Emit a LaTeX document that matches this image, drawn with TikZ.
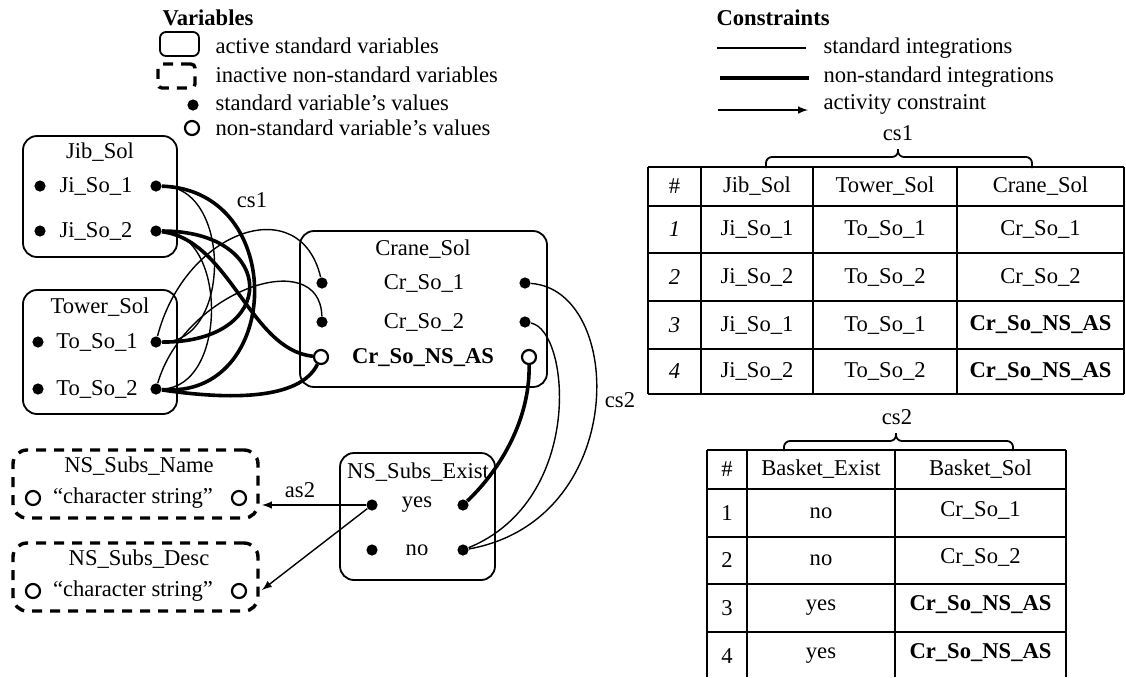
\documentclass[tikz,border=0pt]{standalone}
\usepackage{fontspec}
\setmainfont{Liberation Serif}

\begin{document}
\begin{tikzpicture}[>=latex, x=0.5pt, y=-0.5pt, font=\fontsize{11.3}{13}\selectfont,
    var/.style={draw, rounded corners=7pt, line width=0.9pt},
    nsvar/.style={draw, rounded corners=7pt, line width=1.7pt, dash pattern=on 5pt off 4pt},
    val/.style={circle, fill, inner sep=0pt, minimum size=5.6pt},
    nsval/.style={circle, draw, line width=1.1pt, inner sep=0pt, minimum size=7pt},
    std/.style={line width=0.7pt},
    nonstd/.style={line width=1.8pt},
    act/.style={->, line width=0.7pt},
    grid/.style={line width=0.9pt}]
    \useasboundingbox (0,0) rectangle (1126,677);

    % Legend - variables
    \node[anchor=west] (VarHead) at (155.5,18) {\textbf{Variables}};
    \node[var, rounded corners=3pt, minimum width=19.5pt, minimum height=12pt] (VarIcon-1) at (179.5,44) {};
    \node[nsvar, rounded corners=2pt, minimum width=18.5pt, minimum height=12pt] (VarIcon-2) at (176.5,76) {};
    \node[val] (VarIcon-3) at (193,105) {};
    \node[nsval] (VarIcon-4) at (192,128) {};
    \node[anchor=west] (VarText-1) at (208.5,46) {active standard variables};
    \node[anchor=west] (VarText-2) at (208.5,75) {inactive non-standard variables};
    \node[anchor=west] (VarText-3) at (208.5,103) {standard variable's values};
    \node[anchor=west] (VarText-4) at (208.5,128) {non-standard variable's values};

    % Legend - constraints
    \node[anchor=west] (ConHead) at (709.5,18) {\textbf{Constraints}};
    \coordinate (ConA-1) at (717,48);  \coordinate (ConB-1) at (806,48);
    \coordinate (ConA-2) at (720,78);  \coordinate (ConB-2) at (809,78);
    \coordinate (ConA-3) at (718,110); \coordinate (ConB-3) at (808,110);
    \draw[std] (ConA-1) -- (ConB-1);
    \draw[nonstd] (ConA-2) -- (ConB-2);
    \draw[act] (ConA-3) -- (ConB-3);
    \node[anchor=west] (ConText-1) at (816.5,48) {standard integrations};
    \node[anchor=west] (ConText-2) at (816.5,77) {non-standard integrations};
    \node[anchor=west] (ConText-3) at (816.5,104) {activity constraint};

    % Jib_Sol
    \node[var, minimum width=77pt, minimum height=60.5pt] (JibSol) at (100,196.5) {};
    \node (JibTitle) at (100,152) {Jib\_Sol};
    \foreach \i/\y in {1/186, 2/231}
    {
        \node[val] (JiL-\i) at (40,\y) {};
        \node (Ji-\i) at (96,\y) {Ji\_So\_\i};
        \node[val] (JiR-\i) at (156,\y) {};
    }

    % Tower_Sol
    \node[var, minimum width=77pt, minimum height=62pt] (TowerSol) at (100,352) {};
    \node (TowerTitle) at (100,307) {Tower\_Sol};
    \foreach \i/\y in {1/342, 2/389}
    {
        \node[val] (ToL-\i) at (38,\y) {};
        \node (To-\i) at (97,\y) {To\_So\_\i};
        \node[val] (ToR-\i) at (156,\y) {};
    }

    % Crane_Sol
    \node[var, minimum width=123.5pt, minimum height=78pt] (CraneSol) at (423.5,309) {};
    \node (CraneTitle) at (423,249) {Crane\_Sol};
    \foreach \i/\y in {1/283, 2/322}
    {
        \node[val] (CrL-\i) at (322,\y) {};
        \node (Cr-\i) at (424,\y) {Cr\_So\_\i};
        \node[val] (CrR-\i) at (525,\y) {};
    }
    \node[nsval] (CrL-3) at (321,357) {};
    \node (Cr-3) at (423,358) {\textbf{Cr\_So\_NS\_AS}};
    \node[nsval] (CrR-3) at (529,357) {};

    % NS_Subs_Exist
    \node[var, minimum width=77.5pt, minimum height=63.5pt] (ExistSol) at (417.5,516.5) {};
    \node (ExistTitle) at (418,472) {NS\_Subs\_Exist};
    \foreach \i/\y/\t in {1/505/yes, 2/550/no}
    {
        \node[val] (ExL-\i) at (372,\y) {};
        \node (Ex-\i) at (417,\y) {\t};
        \node[val] (ExR-\i) at (463,\y) {};
    }

    % NS_Subs_Name and NS_Subs_Desc
    \foreach \v/\t/\y in {Name/NS\_Subs\_Name/484, Desc/NS\_Subs\_Desc/577}
    {
        \node[nsvar, minimum width=122.5pt, minimum height=34pt] (NS\v) at (135.5,\y) {};
        \node (NS\v Title) at (139,\y-18) {\t};
        \node[nsval] (NS\v L) at (33,\y+14) {};
        \node (NS\v Val) at (133,\y+14) {“character string”};
        \node[nsval] (NS\v R) at (239,\y+14) {};
    }

    % Constraint cs1
    \draw[std] (JiR-1) .. controls (232,186) and (232,343) .. (ToR-1);
    \draw[std] (JiR-2) .. controls (228,231) and (228,388) .. (ToR-2);
    \draw[std] (ToR-1) .. controls (185,230) and (300,190) .. (CrL-1);
    \draw[std] (ToR-2) .. controls (185,290) and (320,245) .. (CrL-2);
    \draw[nonstd] (JiR-1) .. controls (289,190) and (282,400) .. (ToR-2);
    \draw[nonstd] (ToR-1) .. controls (279,343) and (279,231) .. (JiR-2);
    \draw[nonstd] (JiR-2) .. controls (230,240) and (250,350) .. (CrL-3);
    \draw[nonstd] (ToR-2) .. controls (230,400) and (300,400) .. (CrL-3);
    \node (cs1) at (252,200) {cs1};

    % Constraint cs2
    \draw[std] (CrR-1) .. controls (625,290) and (630,520) .. (ExR-2);
    \draw[std] (CrR-2) .. controls (570,330) and (585,500) .. (ExR-2);
    \draw[nonstd] (CrR-3) .. controls (530,420) and (500,470) .. (ExR-1);
    \node (cs2) at (620,400) {cs2};

    % Activity constraint as2
    \coordinate (NameIn) at (262,505);
    \coordinate (DescIn) at (262,590);
    \draw[act] (ExL-1) -- (NameIn);
    \draw[act] (ExL-1) -- (DescIn);
    \node (as2) at (300,490) {as2};

    % Table cs1
    \node (cs1Head) at (898,133) {cs1};
    \draw[grid, rounded corners=3pt] (766,168) -- (766,157) -- (898,157) -- (898,149);
    \draw[grid, rounded corners=3pt] (898,149) -- (898,157) -- (1032,157) -- (1032,168);
    \foreach \x in {648,701,813,957,1124}
    {
        \draw[grid] (\x,167) -- (\x,394);
    }
    \foreach \y in {167,206,253,301,349,394}
    {
        \draw[grid] (648,\y) -- (1124,\y);
    }
    \node (T1-0-0) at (674.5,186.5) {\#};
    \node (T1-0-1) at (757,186.5) {Jib\_Sol};
    \node (T1-0-2) at (885,186.5) {Tower\_Sol};
    \node (T1-0-3) at (1040.5,186.5) {Crane\_Sol};
    \foreach \n/\y/\j/\c in {1/229.5/1/{Cr\_So\_1}, 2/277/2/{Cr\_So\_2}, 3/325/1/{\textbf{Cr\_So\_NS\_AS}}, 4/371.5/2/{\textbf{Cr\_So\_NS\_AS}}}
    {
        \node (T1-\n-0) at (674.5,\y) {\textit{\n}};
        \node (T1-\n-1) at (757,\y) {Ji\_So\_\j};
        \node (T1-\n-2) at (885,\y) {To\_So\_\j};
        \node (T1-\n-3) at (1040.5,\y) {\c};
    }

    % Table cs2
    \node (cs2Head) at (897,417) {cs2};
    \draw[grid, rounded corners=3pt] (784,451) -- (784,441) -- (896,441) -- (896,433);
    \draw[grid, rounded corners=3pt] (896,433) -- (896,441) -- (1013,441) -- (1013,451);
    \foreach \x in {707,747,895,1066}
    {
        \draw[grid] (\x,450) -- (\x,677);
    }
    \foreach \y in {450,489,537,584,632}
    {
        \draw[grid] (707,\y) -- (1066,\y);
    }
    \node (T2-0-0) at (727,469.5) {\#};
    \node (T2-0-1) at (821,469.5) {Basket\_Exist};
    \node (T2-0-2) at (980.5,469.5) {Basket\_Sol};
    \foreach \n/\y/\e/\c in {1/513/no/{Cr\_So\_1}, 2/560.5/no/{Cr\_So\_2}, 3/608/yes/{\textbf{Cr\_So\_NS\_AS}}, 4/656/yes/{\textbf{Cr\_So\_NS\_AS}}}
    {
        \node (T2-\n-0) at (727,\y) {\n};
        \node (T2-\n-1) at (821,\y) {\e};
        \node (T2-\n-2) at (980.5,\y-3) {\c};
    }

\end{tikzpicture}
\end{document}
